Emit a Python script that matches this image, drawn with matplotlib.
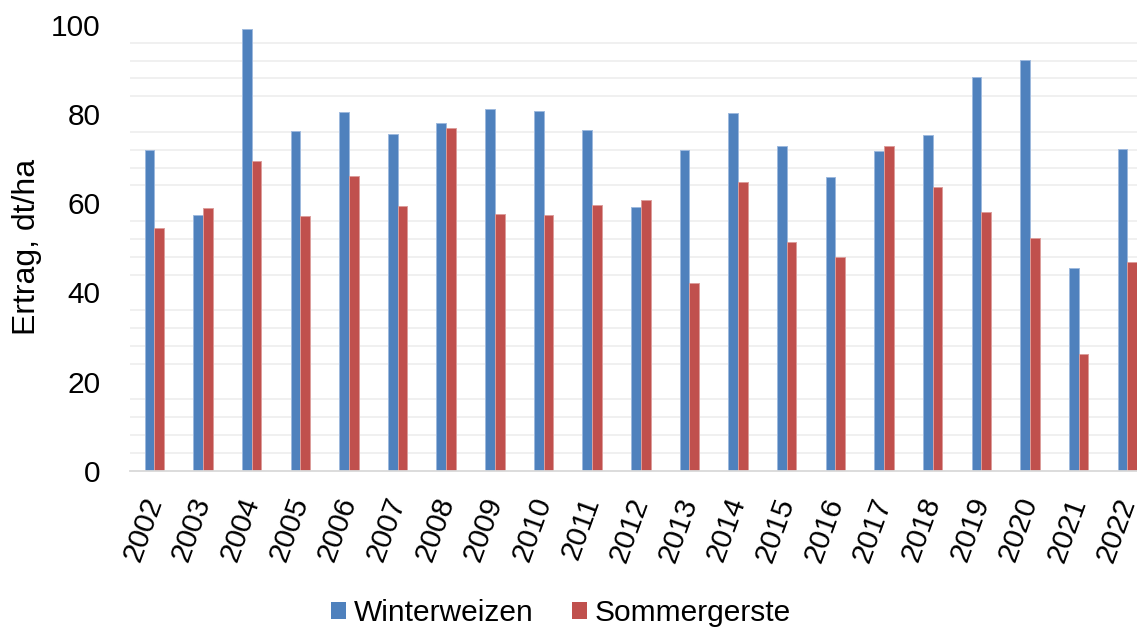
import matplotlib
matplotlib.use("Agg")
import matplotlib.pyplot as plt
import numpy as np
from matplotlib.patches import Patch

plt.rcParams['font.family'] = ['Liberation Sans', 'DejaVu Sans']

years = ['2002', '2003', '2004', '2005', '2006', '2007', '2008', '2009', '2010', '2011',
         '2012', '2013', '2014', '2015', '2016', '2017', '2018', '2019', '2020', '2021', '2022']
winterweizen = [71.9, 57.4, 99.0, 76.3, 80.4, 75.6, 78.0, 81.1, 80.7, 76.5,
                59.2, 71.9, 80.2, 72.8, 65.8, 71.8, 75.3, 88.4, 92.2, 45.5, 72.1]
sommergerste = [54.4, 58.9, 69.5, 57.1, 66.1, 59.4, 76.9, 57.6, 57.3, 59.6,
                60.7, 42.0, 64.8, 51.3, 47.9, 72.8, 63.6, 58.0, 52.1, 26.1, 46.9]
series_names = ['Winterweizen', 'Sommergerste']
y_ticks = [0, 20, 40, 60, 80, 100]

blue = '#4F81BD'
red = '#C0504D'
fs = 21.5

fig = plt.figure(figsize=(11.37, 6.30), dpi=100)
ax = fig.add_axes([130/1137, 1 - 470.7/630, (1151.6 - 130)/1137, (470.7 - 24.9)/630])

x = np.arange(len(years))
w = 0.2
ax.bar(x - w/2, winterweizen, width=w, color=blue, edgecolor='#9db9de', linewidth=0.7, zorder=3)
ax.bar(x + w/2, sommergerste, width=w, color=red, edgecolor='#dc9d9b', linewidth=0.7, zorder=3)

ax.set_xlim(-0.5, len(years) - 0.5)
ax.set_ylim(0, 100)

# minor gridlines every 4, major ones not shown
grid_levels = [v for v in range(4, 100, 4) if v % 20 != 0]
for g in grid_levels:
    ax.axhline(g, color='#efefef', linewidth=1.3, zorder=1)

for s in ['top', 'right', 'left']:
    ax.spines[s].set_visible(False)
ax.spines['bottom'].set_color('#d9d9d9')
ax.spines['bottom'].set_linewidth(1.3)
ax.spines['bottom'].set_zorder(4)

ax.set_yticks(y_ticks)
ax.set_yticklabels([str(v) for v in y_ticks], fontsize=fs)
ax.tick_params(axis='y', length=0, pad=21)
ax.set_xticks(x)
ax.set_xticklabels(years, fontsize=fs, rotation=70, ha='right', va='center',
                   rotation_mode='anchor')
ax.tick_params(axis='x', length=0, pad=20)

fig.text(27/1137, 1 - 247/630, 'Ertrag, dt/ha', rotation=90, fontsize=23,
         ha='center', va='center')

handles = [Patch(facecolor=blue, edgecolor='none'), Patch(facecolor=red, edgecolor='none')]
fig.legend(handles, series_names, loc='center', bbox_to_anchor=(561/1137, 1 - 613/630),
           ncol=2, frameon=False, fontsize=fs, handlelength=0.5, handleheight=0.5,
           handletextpad=0.25, columnspacing=1.3, borderaxespad=0, borderpad=0)

fig.savefig('out.png', dpi=100)
